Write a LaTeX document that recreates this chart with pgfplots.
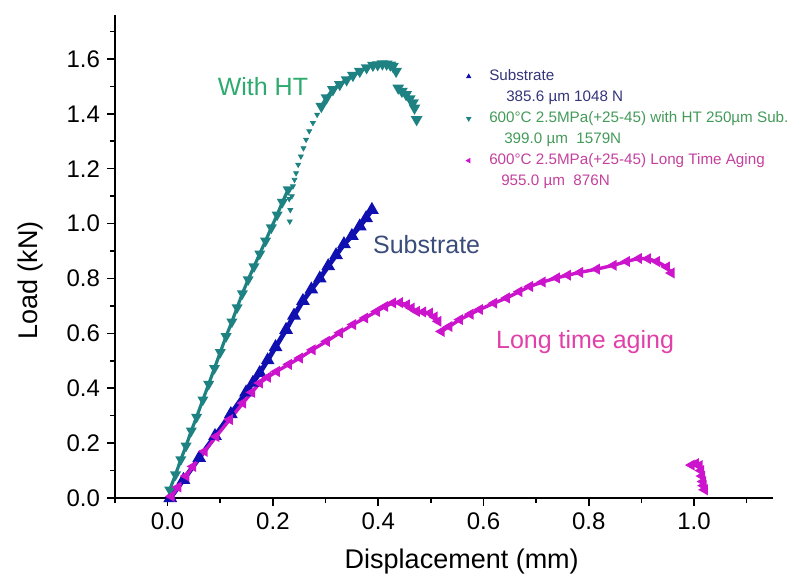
\documentclass[border=0pt]{standalone}
\usepackage{fontspec}
\setmainfont{Liberation Sans}
\usepackage{pgfplots}
\pgfplotsset{compat=1.18}
\definecolor{cblue}{HTML}{1010B0}
\definecolor{cteal}{HTML}{1E8282}
\definecolor{cmag}{HTML}{CC14CC}
\definecolor{tgreen}{HTML}{2EAA6E}
\definecolor{tsub}{HTML}{3A4C7A}
\definecolor{tpink}{HTML}{E040A8}
\definecolor{lnavy}{HTML}{34347A}
\definecolor{lgreen}{HTML}{449A5A}
\definecolor{lmag}{HTML}{C4409C}
\begin{document}
\begin{tikzpicture}
\useasboundingbox (0,0) rectangle (399pt,293pt);
\begin{axis}[
  at={(57.5pt,44pt)}, anchor=south west,
  scale only axis, width=329pt, height=241.5pt,
  xmin=-0.1, xmax=1.15, ymin=0, ymax=1.76,
  axis lines=left,
  axis line style={-, line width=0.9pt, black},
  xtick={0,0.2,0.4,0.6,0.8,1.0},
  ytick={0,0.2,0.4,0.6,0.8,1.0,1.2,1.4,1.6},
  minor xtick={-0.1,0.1,0.3,0.5,0.7,0.9,1.1},
  minor ytick={0.1,0.3,0.5,0.7,0.9,1.1,1.3,1.5,1.7},
  tick align=outside,
  major tick length=4pt, minor tick length=2.5pt,
  tick style={black, line width=0.8pt},
  /pgf/number format/assume math mode=true,
  xticklabel style={/pgf/number format/.cd, fixed, fixed zerofill, precision=1},
  yticklabel style={/pgf/number format/.cd, fixed, fixed zerofill, precision=1},
  ticklabel style={font=\fontsize{12}{14}\selectfont},
  xlabel={Displacement (mm)},
  ylabel={Load (kN)},
  label style={font=\fontsize{13.5}{16}\selectfont},
  xlabel style={at={(axis description cs:0.527,0)}, anchor=center, yshift=-32pt},
  ylabel style={at={(axis description cs:-0.129,0.45)}, anchor=center},
  unbounded coords=jump,
  legend cell align=left,
  legend style={at={(axis description cs:0.511,0.895)}, anchor=north west,
    draw=none, fill=none, inner sep=0pt, row sep=0pt,
    font=\fontsize{7.6}{8}\selectfont,
    nodes={inner sep=1.25pt, text height=6pt, text depth=2pt}},
]
% Substrate
\addplot[forget plot, color=cblue, line width=2.4pt, mark=triangle*, mark size=1.6pt] coordinates {
(0.005,0.0)(0.03,0.066)(0.06,0.146)(0.09,0.226)(0.12,0.306)(0.149,0.385)
(0.162,0.42)(0.175,0.456)(0.19,0.502)(0.205,0.55)(0.225,0.613)(0.24,0.665)
(0.257,0.718)(0.273,0.76)(0.289,0.80)(0.305,0.845)(0.32,0.885)(0.335,0.925)
(0.35,0.955)(0.365,0.99)(0.377,1.02)(0.388,1.05)};
% With HT
\addplot[forget plot, color=cteal, line width=1.6pt, mark=triangle*, mark size=1.6pt, mark options={rotate=180}] coordinates {
(0.004,0.03)(0.015,0.085)(0.025,0.14)(0.035,0.19)(0.045,0.245)(0.055,0.295)
(0.067,0.358)(0.078,0.415)(0.089,0.473)(0.100,0.531)(0.111,0.589)(0.122,0.642)
(0.132,0.694)(0.142,0.745)(0.153,0.796)(0.164,0.843)(0.175,0.890)(0.186,0.937)
(0.197,0.985)(0.208,1.032)(0.218,1.078)(0.229,1.124)};
\addplot[forget plot, only marks, color=cteal, mark=triangle*, mark size=1.4pt, mark options={rotate=180}] coordinates {
(0.231,1.09)(0.233,1.05)(0.232,1.008)(0.236,1.10)(0.238,1.136)(0.241,1.16)
(0.244,1.184)(0.248,1.215)(0.253,1.245)(0.258,1.275)(0.263,1.306)(0.269,1.337)
(0.276,1.367)(0.284,1.397)};
\addplot[forget plot, color=cteal, line width=1.8pt, mark=triangle*, mark size=1.6pt, mark options={rotate=180}] coordinates {
(0.292,1.427)(0.302,1.458)(0.314,1.488)(0.327,1.507)(0.340,1.524)(0.352,1.54)
(0.365,1.555)(0.378,1.568)(0.390,1.577)(0.399,1.579)(0.408,1.582)(0.416,1.581)
(0.423,1.578)(0.428,1.573)(0.434,1.555)
(0.436,nan)
(0.438,1.494)(0.445,1.482)(0.453,1.47)(0.460,1.455)(0.466,1.44)(0.469,1.421)
(0.471,nan)
(0.473,1.379)};
% Long time aging
\addplot[forget plot, color=cmag, line width=1.7pt, mark=triangle*, mark size=1.5pt, mark options={rotate=90}] coordinates {
(0.007,0.006)(0.02,0.04)(0.035,0.08)(0.048,0.115)(0.07,0.17)(0.092,0.224)
(0.118,0.286)(0.143,0.346)(0.160,0.385)(0.175,0.419)(0.19,0.44)(0.207,0.461)
(0.23,0.487)(0.251,0.51)(0.275,0.54)(0.302,0.571)(0.327,0.602)(0.352,0.632)
(0.375,0.656)(0.397,0.68)(0.413,0.698)(0.428,0.711)(0.441,0.712)(0.454,0.704)
(0.463,0.692)(0.473,0.68)(0.485,0.678)(0.498,0.674)(0.507,0.66)(0.514,0.644)
(0.517,nan)
(0.520,0.607)(0.535,0.625)(0.555,0.65)(0.575,0.670)(0.593,0.687)(0.62,0.71)
(0.644,0.729)(0.668,0.752)(0.688,0.771)(0.712,0.787)(0.739,0.802)(0.76,0.812)
(0.783,0.822)(0.815,0.834)(0.847,0.848)(0.872,0.862)(0.895,0.873)(0.912,0.872)
(0.929,0.862)(0.948,0.842)(0.957,0.82)
(0.97,nan)
(0.995,0.12)(1.003,0.125)(1.01,0.118)(1.013,0.10)(1.015,0.08)(1.017,0.06)
(1.018,0.045)(1.02,0.03)};
% legend
\addlegendimage{only marks, mark=triangle*, mark size=1.2pt, color=cblue}
\addlegendentry{\textcolor{lnavy}{\hspace{8pt}Substrate}}
\addlegendimage{empty legend}
\addlegendentry{\textcolor{lnavy}{\hspace{16.5pt}385.6 µm 1048 N}}
\addlegendimage{only marks, mark=triangle*, mark size=1.2pt, color=cteal, mark options={rotate=180}}
\addlegendentry{\textcolor{lgreen}{\hspace{8pt}600°C 2.5MPa(+25-45) with HT 250µm Sub.}}
\addlegendimage{empty legend}
\addlegendentry{\textcolor{lgreen}{\hspace{15.5pt}399.0 µm\ \ 1579N}}
\addlegendimage{only marks, mark=triangle*, mark size=1.2pt, color=cmag, mark options={rotate=90}}
\addlegendentry{\textcolor{lmag}{\hspace{8pt}600°C 2.5MPa(+25-45) Long Time Aging}}
\addlegendimage{empty legend}
\addlegendentry{\textcolor{lmag}{\hspace{14pt}955.0 µm\ \ 876N}}
% annotations
\node[font=\fontsize{12.5}{14}\selectfont, text=tgreen] at (axis cs:0.181,1.499) {With HT};
\node[font=\fontsize{12.5}{14}\selectfont, text=tsub] at (axis cs:0.492,0.923) {Substrate};
\node[font=\fontsize{12.5}{14}\selectfont, text=tpink] at (axis cs:0.793,0.57) {Long time aging};
\end{axis}
\end{tikzpicture}
\end{document}
